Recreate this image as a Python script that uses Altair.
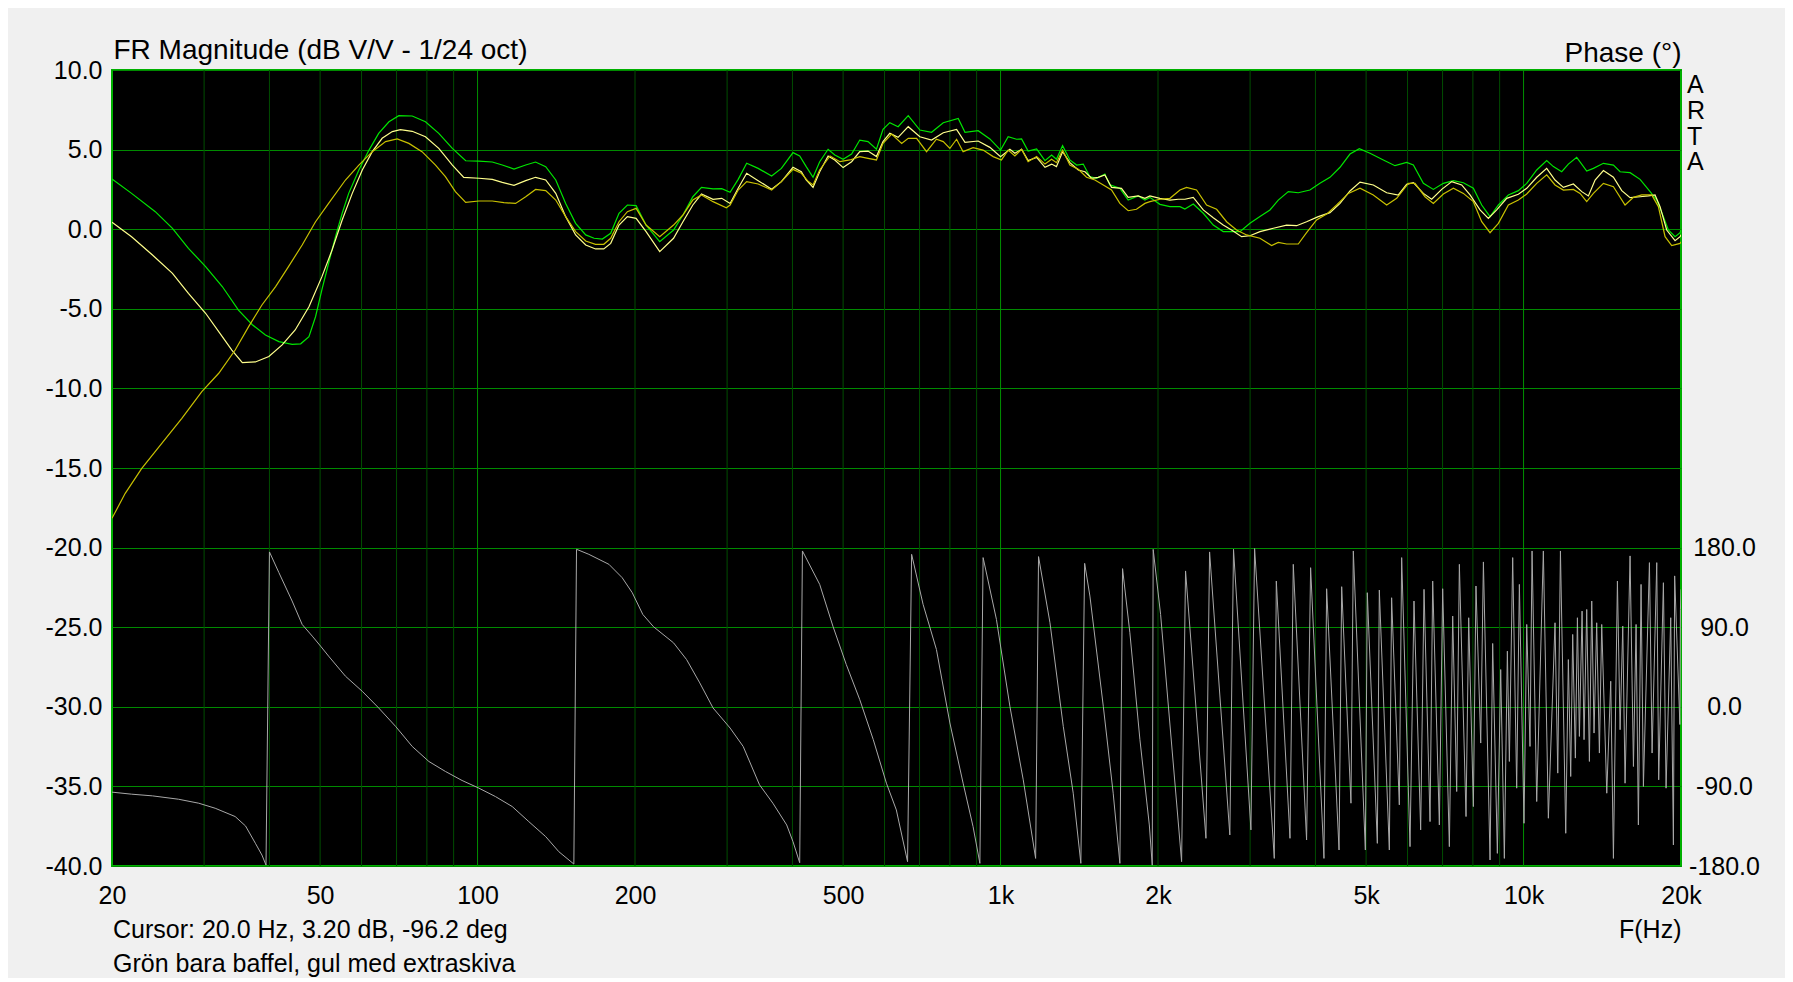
import altair as alt
import pandas as pd

# ---------------- data ----------------
green_f = [20.0, 21.8, 24.2, 26.1, 28.0, 30.2, 32.5, 34.9, 37.1, 39.3, 41.7, 44.2, 45.9, 47.6, 49.0, 50.4,
           51.9, 53.5, 55.1, 56.7, 59.3, 62.0, 64.7, 67.7, 70.7, 75.0, 79.5, 84.3, 89.5, 94.9, 100.6, 106.7,
           111.5, 117.4, 123.6, 129.1, 135.0, 141.1, 147.4, 154.0, 161.0, 167.0, 173.2, 179.7, 186.4, 193.4,
           201, 210, 223, 237, 247, 258, 268, 282, 293, 304, 315, 327, 344, 365, 381, 401, 413, 425, 438,
           451, 468, 482, 500, 519, 538, 558, 579, 596, 614, 637, 666, 701, 738, 777, 830, 855, 906, 954,
           1000, 1034, 1073, 1097, 1129, 1172, 1216, 1252, 1279, 1314, 1357, 1398, 1439, 1482, 1526, 1583,
           1618, 1691, 1754, 1833, 1888, 1930,
           2017, 2108, 2203, 2251, 2336, 2441, 2551, 2665, 2765, 2869, 2998, 3133, 3274, 3396, 3550, 3709,
           3904, 4080, 4264, 4457, 4657, 4853, 5086, 5394, 5678, 5977, 6156, 6433, 6722, 7025, 7342, 7672,
           8017, 8317, 8628, 8951, 9353, 9774, 10140, 10596, 11072, 11404, 11829, 12180, 12637, 13206,
           13600, 14212, 14853, 15296, 15983, 16702, 17456, 17975, 18509, 18918, 19484, 19919, 20000]
green_db = [3.15, 2.25, 1.10, 0.05, -1.20, -2.35, -3.60, -5.08, -6.00, -6.65, -7.06, -7.23, -7.20, -6.75, -5.50, -3.80,
            -2.14, -0.47, 1.00, 2.25, 3.72, 4.97, 6.02, 6.75, 7.13, 7.11, 6.75, 6.02, 5.08, 4.30, 4.28, 4.22,
            4.03, 3.78, 4.03, 4.22, 3.93, 3.09, 1.62, 0.37, -0.36, -0.57, -0.62, -0.26, 1.00, 1.52,
            1.48, 0.26, -0.78, -0.05, 0.89, 2.04, 2.63, 2.53, 2.55, 2.32, 3.13, 4.14, 3.82, 3.34, 3.82, 4.81, 4.60, 3.93, 3.26,
            4.24, 5.02, 4.66, 4.39, 4.72, 5.60, 5.50, 5.02, 6.27, 6.69, 6.44, 7.13, 6.23, 6.09, 6.69, 6.96, 6.09, 6.19, 5.67,
            4.97, 5.81, 5.65, 5.67, 4.91, 5.04, 4.31, 4.66, 4.39, 5.25, 4.35, 4.03, 4.09, 3.30, 3.20, 3.47,
            2.78, 2.57, 1.83, 2.09, 1.83, 2.00,
            1.56, 1.42, 1.42, 1.27, 1.58, 1.00, 0.26, -0.15, -0.15, -0.15, 0.37, 0.79, 1.21, 1.83, 2.36, 2.29,
            2.46, 2.88, 3.26, 3.89, 4.72, 5.06, 4.77, 4.35, 3.99, 4.20, 4.03, 2.88, 2.50, 2.88, 3.05, 2.92,
            2.57, 1.52, 0.79, 1.52, 2.15, 2.42, 2.88, 3.72, 4.31, 3.93, 3.61, 4.09, 4.51, 3.65,
            3.82, 4.14, 4.03, 3.61, 3.55, 3.13, 2.36, 1.83, 0.79, -0.05, -0.47, -0.22, -0.05]

pale_f = [20.0, 21.8, 23.9, 26.1, 28.0, 30.2, 32.5, 33.9, 35.5, 37.6, 39.9, 42.3, 44.8, 47.6, 50.4, 52.7,
          55.1, 57.6, 60.2, 62.9, 65.7, 68.7, 71.2, 75.0, 79.5, 84.3, 89.5, 94.1, 100.6, 106.7, 111.5, 117.4,
          123.6, 129.1, 135.0, 141.1, 147.4, 154.0, 161.0, 168.1, 174.3, 179.7, 186.4, 193.4,
          201, 210, 223, 237, 247, 258, 268, 282, 293, 304, 315, 327, 344, 365, 381, 401, 416, 425, 438,
          451, 468, 482, 500, 519, 538, 558, 579, 596, 614, 637, 666, 701, 738, 777, 824, 855, 906, 954,
          1000, 1042, 1065, 1097, 1129, 1172, 1216, 1252, 1279, 1314, 1357, 1408, 1450, 1493, 1537, 1583,
          1630, 1703, 1754, 1833, 1888, 1930,
          2017, 2108, 2187, 2251, 2336, 2441, 2551, 2665, 2765, 2890, 2998, 3133, 3323, 3523, 3681, 3847,
          4050, 4264, 4457, 4657, 4867, 5161, 5474, 5762, 5977, 6156, 6433, 6673, 6974, 7289, 7615, 7901,
          8256, 8564, 8885, 9285, 9774, 10140, 10596, 11072, 11486, 11916, 12453, 12920, 13303, 13701,
          14212, 14853, 15409, 15983, 16702, 17327, 17840, 18238, 18779, 19484, 19919, 20000]
pale_db = [0.43, -0.47, -1.62, -2.77, -4.03, -5.28, -6.75, -7.59, -8.38, -8.34, -8.00, -7.27, -6.33, -4.87, -2.98, -1.31,
           0.58, 2.25, 3.72, 4.87, 5.71, 6.13, 6.25, 6.15, 5.81, 5.08, 4.03, 3.26, 3.20, 3.13, 2.94, 2.76,
           3.05, 3.26, 3.09, 2.25, 0.79, -0.36, -0.99, -1.24, -1.24, -0.89, 0.26, 0.79,
           0.68, -0.15, -1.41, -0.57, 0.47, 1.52, 2.21, 1.88, 1.94, 1.62, 2.57, 3.51, 3.05, 2.51, 2.99, 3.89, 3.61, 3.09, 2.63,
           3.61, 4.60, 4.35, 3.87, 4.24, 4.87, 4.91, 4.56, 5.50, 6.02, 5.77, 6.44, 5.81, 5.60, 6.06, 6.27, 5.46, 5.54, 5.14,
           4.56, 5.02, 4.77, 5.02, 4.31, 4.51, 3.89, 4.09, 3.93, 4.87, 4.18, 3.72, 3.61, 3.20, 3.26, 3.41,
           2.63, 2.57, 2.00, 2.09, 1.94, 2.09,
           1.94, 1.83, 1.88, 1.88, 2.00, 1.21, 0.72, 0.26, -0.05, -0.47, -0.41, -0.15, 0.06, 0.26, 0.22, 0.47,
           0.79, 1.04, 1.62, 2.40, 2.96, 2.78, 2.29, 2.15, 2.82, 2.92, 2.25, 1.88, 2.50, 2.99, 2.78, 2.15,
           1.21, 0.68, 1.21, 1.94, 2.19, 2.57, 3.26, 3.82, 3.09, 2.63, 2.84, 2.36, 2.09, 3.09,
           3.68, 3.26, 2.42, 1.98, 2.04, 2.09, 2.15, 1.42, -0.05, -0.72, -0.47, -0.35]

dark_f = [20.0, 21.2, 22.8, 24.9, 27.2, 29.7, 32.0, 34.4, 36.5, 38.7, 41.1, 43.5, 46.2, 49.0, 51.9, 55.9,
          59.3, 62.9, 66.7, 70.2, 73.9, 78.3, 83.1, 86.8, 90.7, 94.9, 100.6, 106.7, 112.3, 118.2, 123.6, 129.1,
          135.0, 141.1, 147.4, 154.0, 161.0, 168.1, 174.3, 179.7, 186.4, 193.4,
          201, 210, 223, 237, 247, 258, 268, 282, 299, 304, 315, 327, 344, 365, 381, 401, 416, 429, 438,
          451, 472, 493, 515, 538, 558, 579, 596, 619, 647, 666, 691, 722, 754, 777, 800, 824, 848, 886,
          926, 968, 1004, 1034, 1065, 1097, 1129, 1172, 1216, 1252, 1279, 1314, 1357, 1408, 1460, 1515,
          1572, 1630, 1691, 1754, 1819, 1888, 1930,
          2017, 2108, 2203, 2268, 2370, 2477, 2589, 2705, 2827, 2954, 3133, 3298, 3396, 3523, 3709, 3847,
          4020, 4202, 4391, 4623, 4867, 5161, 5474, 5720, 6021, 6201, 6480, 6722, 7025, 7342, 7672, 8017,
          8317, 8628, 8951, 9353, 9774, 10140, 10596, 11072, 11486, 11916, 12453, 12825, 13206, 13600,
          14212, 14853, 15634, 16221, 16825, 17581, 18104, 18645, 19199, 19919, 20000]
dark_db = [-18.16, -16.59, -15.02, -13.45, -11.88, -10.20, -9.05, -7.59, -6.12, -4.76, -3.61, -2.35, -0.99, 0.47, 1.62, 3.09,
           4.03, 4.87, 5.50, 5.67, 5.39, 4.87, 4.03, 3.30, 2.36, 1.69, 1.77, 1.77, 1.67, 1.62, 2.04, 2.50,
           2.42, 1.83, 0.79, -0.15, -0.74, -0.95, -0.95, -0.57, 0.47, 1.10,
           1.31, 0.26, -0.47, 0.26, 0.89, 1.83, 2.15, 1.73, 1.35, 1.52, 2.46, 2.99, 2.84, 2.46, 2.99, 3.76, 3.51, 2.99, 2.78,
           3.72, 4.60, 4.24, 4.35, 4.56, 4.45, 4.35, 5.39, 5.98, 5.39, 5.71, 5.71, 4.87, 5.65, 5.50, 5.08, 5.65, 4.87, 5.12,
           4.97, 4.56, 4.35, 4.97, 4.60, 5.02, 4.24, 4.56, 4.09, 4.39, 4.18, 4.97, 4.03, 3.76, 3.26, 3.09,
           2.78, 2.46, 1.62, 1.16, 1.25, 1.62, 1.73,
           1.88, 1.94, 2.46, 2.63, 2.46, 1.52, 1.25, 0.47, -0.05, -0.36, -0.57, -1.03, -0.83, -0.93, -0.93, -0.22,
           0.58, 0.95, 1.52, 2.25, 2.57, 2.15, 1.52, 1.94, 2.88, 2.88, 2.04, 1.62, 2.21, 2.57, 2.25, 1.73,
           0.47, -0.22, 0.37, 1.52, 1.83, 2.21, 2.88, 3.41, 2.78, 2.46, 2.50, 2.25, 1.73, 2.25,
           2.88, 2.67, 1.52, 2.00, 2.15, 2.15, 1.42, -0.47, -1.03, -0.89, -0.80]

phase_f = [20.0, 21.8, 23.9, 26.8, 29.3, 31.5, 34.4, 36.0, 37.6, 38.7, 39.4,
           40.0, 41.7, 44.2, 46.2, 48.3, 50.1, 51.9, 55.9, 60.2, 64.7, 69.7, 75.0, 80.7, 86.8, 93.4, 100.6,
           108.2, 116.5, 125.3, 135.0, 143.0, 152.8,
           154.6, 163.2, 178.3, 189.0, 197.6, 207, 217, 237, 251, 266, 282, 304, 322, 346, 367, 390, 401, 413,
           418, 451, 478, 507, 538, 571, 605, 632, 664,
           676, 711, 754, 800, 848, 886, 913,
           926, 982, 1042, 1105, 1167,
           1182, 1243, 1318, 1377, 1424,
           1448, 1482, 1572, 1642, 1691,
           1711, 1767, 1847, 1925, 1950,
           1958, 2023, 2219, 2258, 2470, 2510, 2744, 2789, 3011, 3060, 3337, 3367, 3576, 3628, 3847,
           3916, 4153, 4202, 4438, 4490, 4677, 4726, 4983, 5026, 5253, 5299, 5538, 5594, 5787, 5847, 6066,
           6173, 6357, 6452, 6625, 6703, 6902, 7004, 7213, 7320, 7450, 7538, 7762, 7854, 8017, 8110, 8281,
           8379, 8628, 8729, 8910, 9042, 9189, 9312, 9394, 9533, 9702, 9817, 10020, 10140, 10288, 10381, 10596,
           10910, 11154, 11486, 11625, 11762, 12041, 12180, 12307, 12415, 12562, 12676, 12787, 12938, 13051,
           13206, 13362, 13501, 13638, 13799, 13964, 14108, 14425, 14678, 14853, 15116, 15296, 15476, 15634,
           15983, 16221, 16412, 16578, 16775, 16949, 17405, 17609, 17975, 18129, 18509, 18728, 19116, 19342,
           19450, 19900, 19950, 20000]
phase_deg = [-96.5, -98.8, -100.7, -104.5, -109.0, -114.7, -124.1, -134.7, -154.3, -167.6, -178.9,
             175.1, 151.7, 119.6, 93.1, 79.9, 68.6, 57.3, 34.6, 17.5, -1.3, -22.1, -44.8, -61.8, -73.1, -83.3, -92.0,
             -101.5, -112.8, -129.8, -146.8, -163.8, -177.8,
             178.1, 172.4, 161.1, 146.0, 129.0, 104.4, 90.5, 72.3, 53.4, 27.0, -1.3, -24.0, -44.8, -88.2, -109.0, -133.6, -152.5, -176.3,
             176.2, 138.4, 91.2, 47.8, 8.1, -37.2, -86.4, -116.6, -175.1,
             172.4, 115.8, 64.8, -18.3, -86.4, -135.5, -177.0,
             168.7, 98.8, 0.5, -82.6, -171.4,
             169.8, 95.0, -22.1, -97.7, -177.0,
             162.2, 125.2, 0.5, -97.7, -177.0,
             156.2, 83.7, -37.2, -133.6, -179.0,
             178.0, 104.4, -175.1, 153.6, -148.7, 175.1, -144.9, 178.1, -139.2, 178.9, -171.4, 142.2, -148.7, 161.1, -150.6,
             157.3, -171.4, 133.5, -161.9, 135.8, -109.0, 176.2, -161.9, 129.0, -154.4, 132.0, -161.9, 123.3, -110.9, 168.7, -158.1,
             119.6, -139.2, 132.8, -129.8, 142.2, -133.6, 133.5, -158.1, 102.6, -95.8, 161.1, -124.1, 100.7, -112.8, 136.6, -41.0,
             163.8, -173.2, 71.6, -165.7, 42.1, -171.4, 62.9, -61.8, 168.7, -92.0, 138.4, -131.7, 93.1, -44.8, 176.2, -107.1,
             176.2, -126.0, 95.0, -75.0, 176.2, -143.0, 53.4, -78.8, 81.8, -58.0, 100.7, -33.5, 108.2, -37.2,
             110.1, -61.8, 119.6, -29.7, 95.0, -52.3, 93.1, -97.7, 28.9, -171.4, 142.2, -25.9, 91.2, -86.4,
             170.6, -67.5, 93.1, -133.6, 138.4, -90.1, 163.0, -52.3, 163.0, -82.6, 140.3, -92.0, 100.7, -156.2,
             148.0, -20.0, 110.0, 132.8]

grid_minor_f = [30, 40, 50, 60, 70, 80, 90, 200, 300, 400, 500, 600, 700, 800, 900,
                2000, 3000, 4000, 5000, 6000, 7000, 8000, 9000]
grid_major_f = [100, 1000, 10000]
x_tick_vals = [20, 50, 100, 200, 500, 1000, 2000, 5000, 10000, 20000]
y_tick_vals = [-40, -35, -30, -25, -20, -15, -10, -5, 0, 5, 10]
phase_tick_vals = [-180, -90, 0, 90, 180]
series_names = ["Grön", "Gul ljus", "Gul mörk"]
series_colors = ["#00e600", "#ffff8c", "#c8c000"]
notes_text = "Cursor: 20.0 Hz, 3.20 dB, -96.2 deg\nGrön bara baffel, gul med extraskiva"
arta_text = "A\nR\nT\nA"

# ---------------- chart ----------------
W, H = 1569, 796
FONT = "Liberation Sans"
MINUS_FIX = "replace(format(datum.value, '.1f'), '\u2212', '-')"

mag_df = pd.concat([
    pd.DataFrame({"f": green_f, "db": green_db, "s": series_names[0]}),
    pd.DataFrame({"f": pale_f, "db": pale_db, "s": series_names[1]}),
    pd.DataFrame({"f": dark_f, "db": dark_db, "s": series_names[2]}),
], ignore_index=True)
phase_df = pd.DataFrame({"f": phase_f, "ph": phase_deg})
minor_df = pd.DataFrame({"f": grid_minor_f})
major_df = pd.DataFrame({"f": grid_major_f})

xscale = alt.Scale(type="log", domain=[20, 20000], nice=False)
xaxis = alt.Axis(
    values=x_tick_vals,
    labelExpr="datum.value >= 1000 ? format(datum.value / 1000, 'd') + 'k' : format(datum.value, 'd')",
    labelFont=FONT, labelFontSize=25, labelColor="black", labelBaseline="alphabetic",
    labelPadding=37, labelFlush=False, labelOverlap=False,
    ticks=False, tickSize=0, domain=False, grid=False,
    title="F(Hz)", titleFont=FONT, titleFontSize=25, titleFontWeight="normal", titleColor="black",
    titleAnchor="end", titleAlign="right", titleBaseline="alphabetic", titleX=W, titleY=71,
)
x_enc = alt.X("f:Q", scale=xscale, axis=xaxis)

minor_rules = alt.Chart(minor_df).mark_rule(color="#004d00", strokeWidth=1).encode(x=x_enc)
major_rules = alt.Chart(major_df).mark_rule(color="#009000", strokeWidth=1).encode(x=x_enc)

phase_line = alt.Chart(phase_df).mark_line(color="#a8a8a8", strokeWidth=1, clip=True).encode(
    x=x_enc,
    y=alt.Y("ph:Q", scale=alt.Scale(domain=[-180, 720], nice=False, zero=False),
            axis=alt.Axis(orient="right", values=phase_tick_vals, labelExpr=MINUS_FIX,
                          labelFont=FONT, labelFontSize=25, labelColor="black",
                          labelAlign="center", labelBaseline="middle", labelPadding=43,
                          ticks=False, tickSize=0, domain=False, grid=False,
                          title="Phase (°)", titleFont=FONT, titleFontSize=28, titleFontWeight="normal",
                          titleColor="black", titleAngle=0, titleAlign="right", titleBaseline="alphabetic",
                          titleX=0, titleY=-9)),
)

mag_lines = alt.Chart(mag_df).mark_line(strokeWidth=1.2, clip=True).encode(
    x=x_enc,
    y=alt.Y("db:Q", scale=alt.Scale(domain=[-40, 10], nice=False, zero=False),
            axis=alt.Axis(orient="left", values=y_tick_vals, labelExpr=MINUS_FIX,
                          labelFont=FONT, labelFontSize=25, labelColor="black",
                          labelAlign="right", labelBaseline="middle", labelPadding=10,
                          ticks=False, tickSize=0, domain=False,
                          grid=True, gridColor="#008a00", gridWidth=1, gridOpacity=1,
                          title="FR Magnitude (dB V/V - 1/24 oct)", titleFont=FONT, titleFontSize=28,
                          titleFontWeight="normal", titleColor="black", titleAngle=0, titleAlign="left",
                          titleBaseline="alphabetic", titleX=1, titleY=-12)),
    color=alt.Color("s:N", scale=alt.Scale(domain=series_names, range=series_colors), legend=None),
)

notes = alt.Chart(pd.DataFrame({"t": [notes_text]})).mark_text(
    align="left", baseline="alphabetic", font=FONT, fontSize=25, color="black",
    lineBreak="\n", lineHeight=34,
).encode(text="t:N", x=alt.value(1), y=alt.value(H + 72))

arta = alt.Chart(pd.DataFrame({"t": [arta_text]})).mark_text(
    align="left", baseline="alphabetic", font=FONT, fontSize=25, color="black",
    lineBreak="\n", lineHeight=25.8,
).encode(text="t:N", x=alt.value(W + 6), y=alt.value(23))

chart = alt.layer(
    minor_rules, major_rules, phase_line, mag_lines, notes, arta
).resolve_scale(y="independent").properties(
    width=W, height=H,
    autosize=alt.AutoSizeParams(type="none"),
    padding={"left": 104, "top": 62, "right": 104, "bottom": 112},
    background="#f0f0f0",
).configure_view(
    fill="black", stroke="#00b000", strokeWidth=2,
)

chart.save("out.html", embed_options={"renderer": "svg", "actions": False})
